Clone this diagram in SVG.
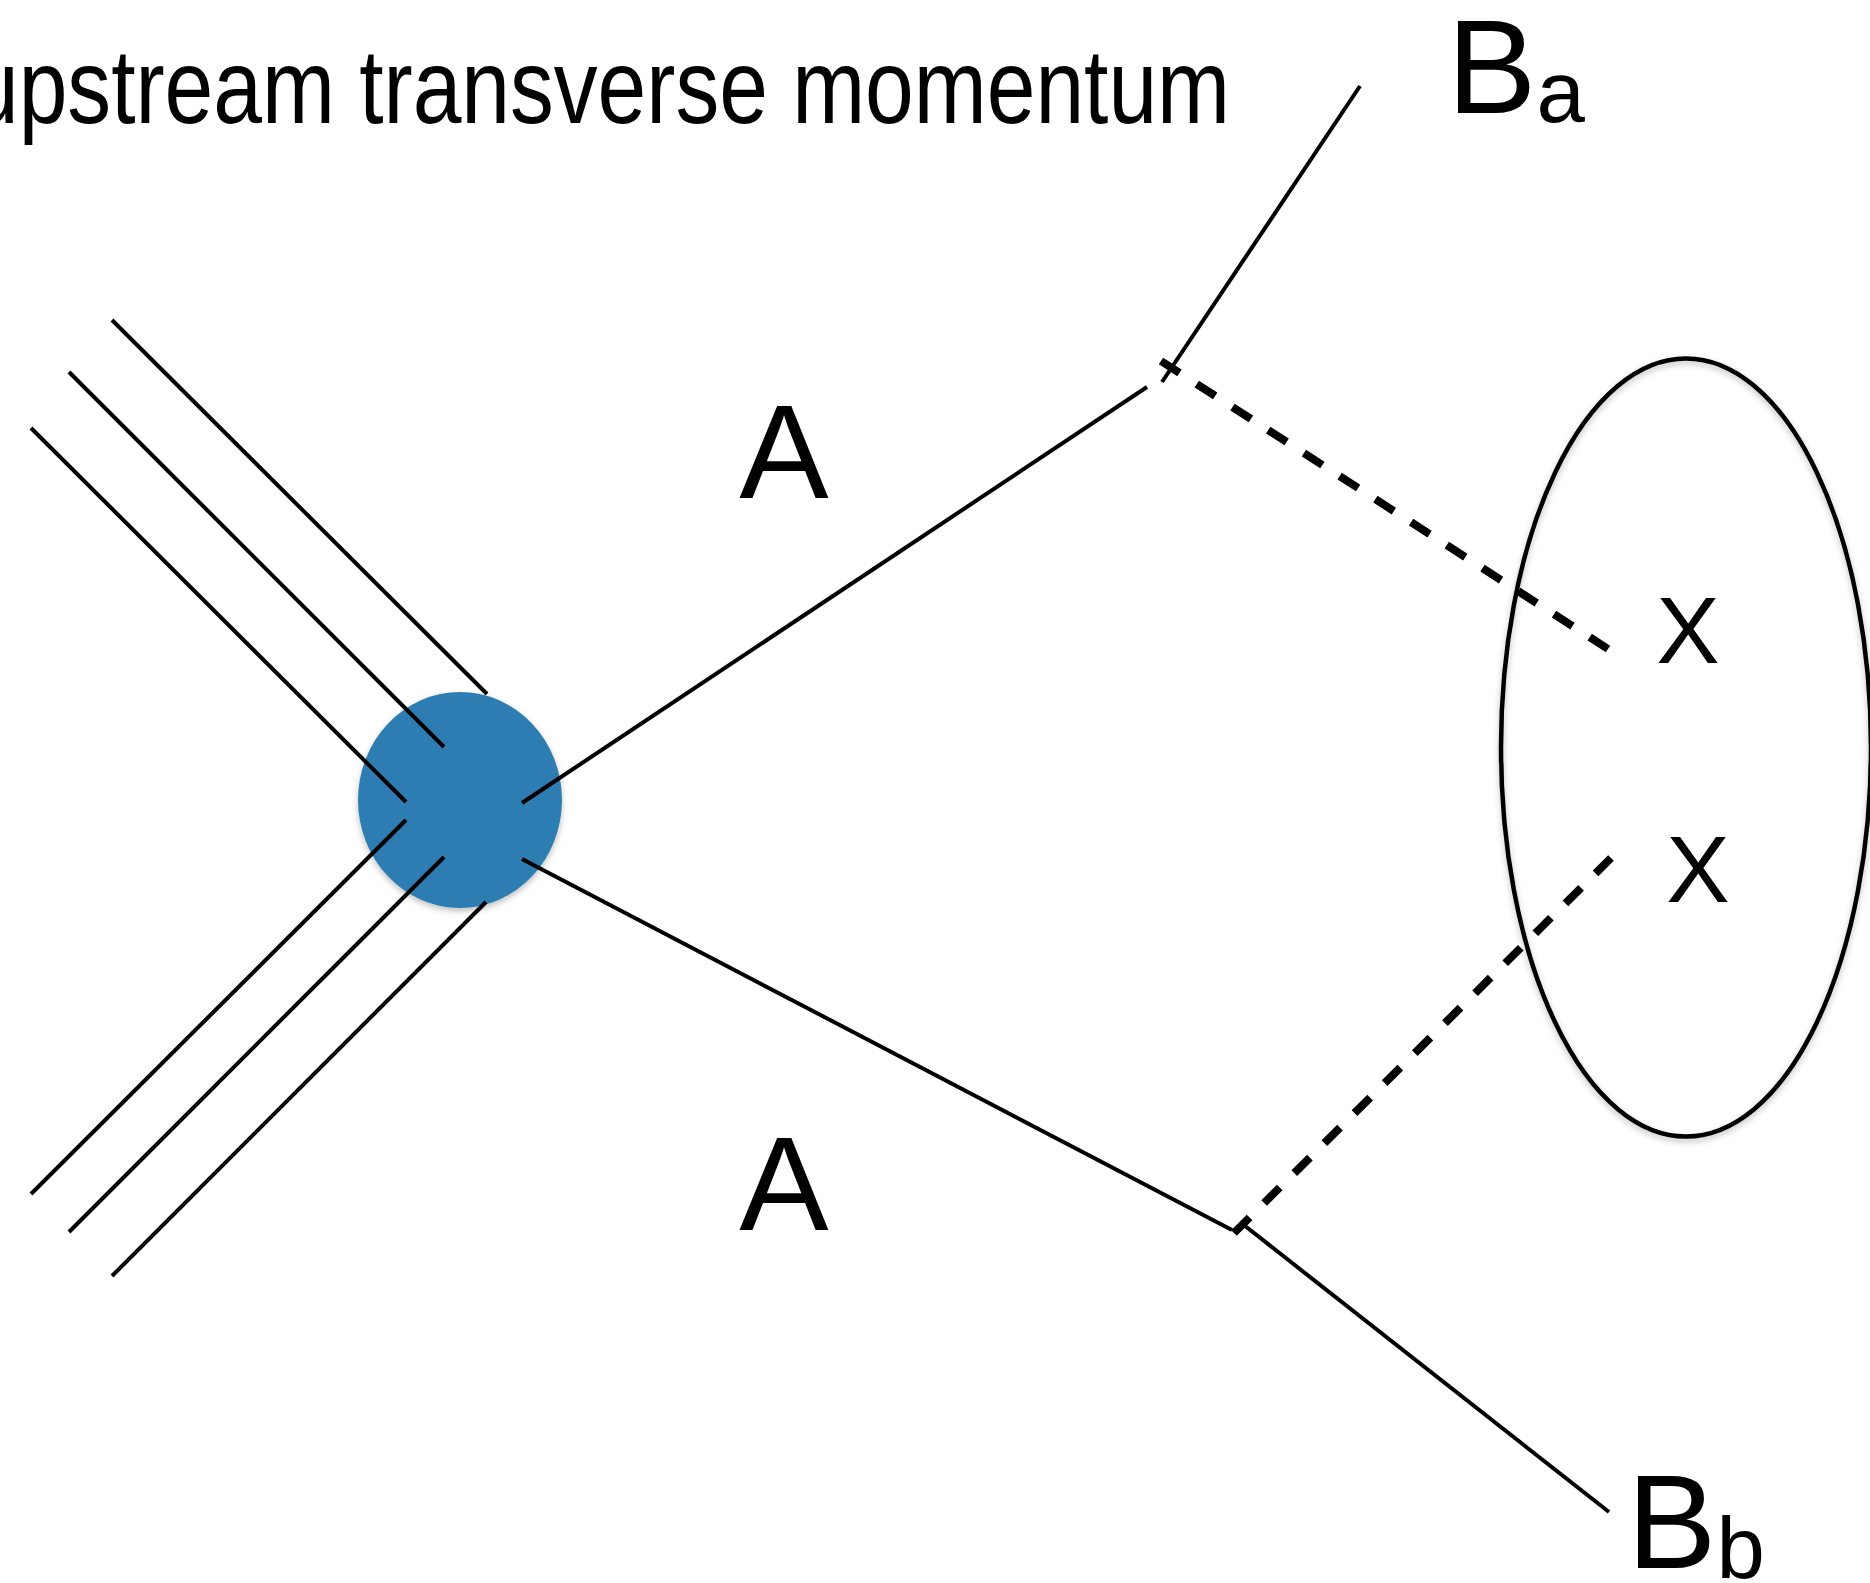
<svg xmlns="http://www.w3.org/2000/svg" width="1870" height="1583" viewBox="0 0 1870 1583">
<style>
  .ln{stroke:#000;stroke-width:4;fill:none;stroke-linecap:butt}
  .dash{stroke:#000;stroke-width:8;fill:none;stroke-dasharray:22 20.5;stroke-linecap:butt}
  .lbl{font-family:"Liberation Sans",Arial,Helvetica,sans-serif;fill:#000}
</style>
<defs>
  <filter id="sh" x="-20%" y="-20%" width="140%" height="140%">
    <feDropShadow dx="0" dy="3" stdDeviation="3" flood-color="#000" flood-opacity="0.25"/>
  </filter>
</defs>
<rect width="1870" height="1583" fill="#fff"/>
<text id="title" class="lbl" x="-30" y="123" font-size="106" textLength="1260" lengthAdjust="spacingAndGlyphs">upstream transverse momentum</text>
<g id="blob"><ellipse cx="460" cy="800" rx="102" ry="108" fill="#2e7db2" filter="url(#sh)"/></g>
<g id="region"><ellipse cx="1686" cy="747.5" rx="185" ry="389" fill="none" stroke="#000" stroke-width="4.5" filter="url(#sh)"/></g>
<g id="connectors">
  <line class="ln" x1="112" y1="320" x2="487" y2="694"/>
  <line class="ln" x1="69" y1="372" x2="444" y2="747"/>
  <line class="ln" x1="31" y1="428" x2="406" y2="802"/>
  <line class="ln" x1="406" y1="820" x2="31" y2="1194"/>
  <line class="ln" x1="444" y1="857" x2="69" y2="1232"/>
  <line class="ln" x1="486" y1="902" x2="112" y2="1276"/>
  <line class="ln" x1="522" y1="803" x2="1147" y2="387"/>
  <line class="ln" x1="522" y1="859" x2="1232" y2="1230"/>
  <line class="ln" x1="1360" y1="86" x2="1162" y2="382"/>
  <line class="ln" x1="1240" y1="1222" x2="1609" y2="1512"/>
  <line class="dash" x1="1161" y1="361" x2="1608" y2="649"/>
  <line class="dash" x1="1234" y1="1233" x2="1611" y2="858"/>
</g>
<g id="label-A-top"><text class="lbl" x="784" y="498" font-size="134" text-anchor="middle">A</text></g>
<g id="label-A-bottom"><text class="lbl" x="784" y="1230" font-size="134" text-anchor="middle">A</text></g>
<g id="label-Ba"><text class="lbl" x="1447" y="113" font-size="134">B<tspan font-size="87" dy="9">a</tspan></text></g>
<g id="label-Bb"><text class="lbl" x="1627" y="1568" font-size="134">B<tspan font-size="87" dy="10">b</tspan></text></g>
<g id="label-X1"><text class="lbl" x="1688" y="663" font-size="95" text-anchor="middle">X</text></g>
<g id="label-X2"><text class="lbl" x="1698" y="902" font-size="95" text-anchor="middle">X</text></g>
</svg>
